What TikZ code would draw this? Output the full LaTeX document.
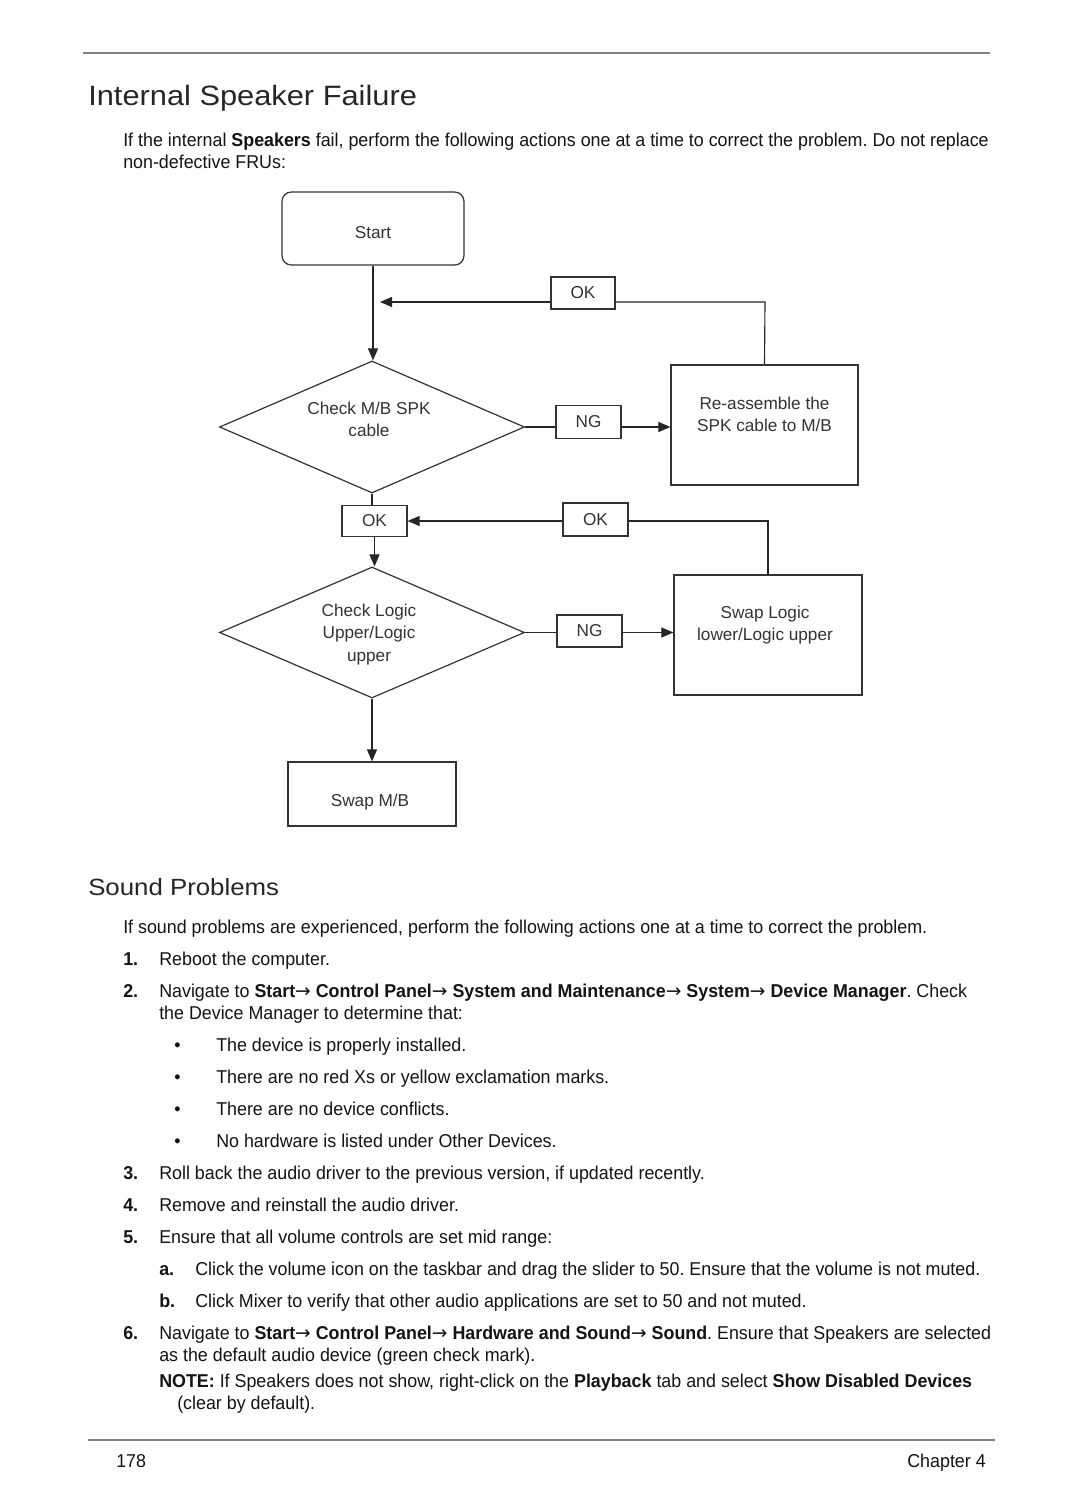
\documentclass[tikz,border=0pt]{standalone}
\usepackage{fontspec}
\setmainfont{Liberation Sans}
\newfontfamily\bodyfont[FakeStretch=0.96]{Liberation Sans}
\newfontfamily\headfont[FakeStretch=1.1]{Liberation Sans}
\newfontfamily\arrowfont{DejaVu Sans}
\newcommand{\rarr}{{\arrowfont\mdseries\fontsize{14pt}{15pt}\selectfont\raisebox{0.3pt}{→}}}
\usetikzlibrary{shapes.geometric,arrows.meta}
\tikzset{
  body/.style={font=\bodyfont\frenchspacing\fontsize{13.95pt}{16.5pt}\selectfont, text=black!92, inner sep=0pt, anchor=base west},
  head/.style={font=\headfont\fontsize{21pt}{25pt}\selectfont, text=black!85, inner sep=0pt, anchor=base west},
  subhead/.style={font=\headfont\fontsize{17.6pt}{21pt}\selectfont, text=black!85, inner sep=0pt, anchor=base west},
  flowtext/.style={font=\fontsize{12.9pt}{16.6pt}\selectfont, text=black!80, align=center, inner sep=0pt},
  box/.style={draw=black!80, line width=0.9pt, rectangle, inner sep=0pt, flowtext},
  dia/.style={draw=black!80, line width=0.9pt, diamond, inner sep=0pt, flowtext},
  conn/.style={draw=black!85, line width=0.85pt},
  arr/.style={conn, -{Triangle[length=9pt,width=7.5pt]}},
  rule/.style={draw=black!50, line width=1.2pt}
}
\begin{document}
\begin{tikzpicture}[x=0.75pt,y=-0.75pt]
\fill[white] (0,0) rectangle (1080,1512);
\useasboundingbox (0,0) rectangle (1080,1512);

% rules
\coordinate (r1a) at (83,53); \coordinate (r1b) at (990,53);
\draw[rule] (r1a) -- (r1b);
\coordinate (r2a) at (88,1440); \coordinate (r2b) at (995,1440);
\draw[rule] (r2a) -- (r2b);

% heading and intro
\node[head] (title) at (88,106) {Internal Speaker Failure};
\node[body] (p1a) at (123,146.5) {If the internal \textbf{Speakers} fail, perform the following actions one at a time to correct the problem. Do not replace};
\node[body] (p1b) at (123,168.5) {non-defective FRUs:};

% flowchart
\node[box, rounded corners=7pt, minimum width=182*0.75pt, minimum height=73*0.75pt,
      label={[flowtext, yshift=-4*0.75pt]center:{Start}}] (start) at (373,228.5) {};
\node[dia, minimum width=305*0.75pt, minimum height=132*0.75pt,
      label={[flowtext, xshift=-3*0.75pt, yshift=8*0.75pt]center:{Check M/B SPK\\cable}}] (d1) at (372,427) {};
\node[box, minimum width=64*0.75pt, minimum height=32*0.75pt] (ok1) at (583,293) {OK};
\node[box, minimum width=65*0.75pt, minimum height=33*0.75pt] (ng1) at (588.5,422) {NG};
\node[box, minimum width=187*0.75pt, minimum height=120*0.75pt,
      label={[flowtext, yshift=11*0.75pt]center:{Re-assemble the\\SPK cable to M/B}}] (rebox) at (764.5,425) {};
\node[box, minimum width=65*0.75pt, minimum height=31*0.75pt] (ok2) at (374.5,521) {OK};
\node[box, minimum width=65*0.75pt, minimum height=33*0.75pt] (ok3) at (595.5,519.5) {OK};
\node[dia, minimum width=305*0.75pt, minimum height=131*0.75pt,
      label={[flowtext, xshift=-3*0.75pt, yshift=-2*0.75pt]center:{Check Logic\\Upper/Logic\\upper}}] (d2) at (372,632.5) {};
\node[box, minimum width=65*0.75pt, minimum height=32*0.75pt] (ng2) at (589.5,631) {NG};
\node[box, minimum width=188*0.75pt, minimum height=120*0.75pt,
      label={[flowtext, xshift=-3*0.75pt, yshift=10*0.75pt]center:{Swap Logic\\lower/Logic upper}}] (swapl) at (768,635) {};
\node[box, minimum width=168*0.75pt, minimum height=64*0.75pt,
      label={[flowtext, xshift=-2*0.75pt, yshift=-8.5*0.75pt]center:{Swap M/B}}] (swapmb) at (372,794) {};

% connectors
\coordinate (m1) at (765,302);
\coordinate (t1) at (380,302);
\draw[arr] (start.south) -- (start.south |- d1.north);
\draw[conn] (rebox.north) -- (m1) -- (ok1.east |- m1);
\draw[arr] (ok1.west |- m1) -- (t1);
\draw[conn] (d1.east) -- (ng1.west |- d1.east);
\draw[arr] (ng1.east |- d1.east) -- (rebox.west |- d1.east);
\draw[conn] (d1.south) -- (d1.south |- ok2.north);
\coordinate (m2) at (768,521);
\draw[conn] (swapl.north) -- (m2) -- (ok3.east |- m2);
\draw[arr] (ok3.west |- m2) -- (ok2.east |- m2);
\draw[arr] (ok2.south) -- (ok2.south |- d2.north);
\draw[conn] (d2.east) -- (ng2.west |- d2.east);
\draw[arr] (ng2.east |- d2.east) -- (swapl.west |- d2.east);
\draw[arr] (d2.south) -- (swapmb.north);

% sound problems
\node[subhead] (title2) at (88,895) {Sound Problems};
\node[body] (s0) at (123,933.5) {If sound problems are experienced, perform the following actions one at a time to correct the problem.};
\node[body] (n1) at (123,965.5) {\textbf{1.}};
\node[body] (s1) at (159,965.5) {Reboot the computer.};
\node[body] (n2) at (123,997.5) {\textbf{2.}};
\node[body] (s2a) at (159,997.5) {Navigate to \textbf{Start}\rarr\ \textbf{Control Panel}\rarr\ \textbf{System and Maintenance}\rarr\ \textbf{System}\rarr\ \textbf{Device Manager}. Check};
\node[body] (s2b) at (159,1019.5) {the Device Manager to determine that:};
\node[body] (b1) at (174,1051.5) {•};
\node[body] (sb1) at (216,1051.5) {The device is properly installed.};
\node[body] (b2) at (174,1083.5) {•};
\node[body] (sb2) at (216,1083.5) {There are no red Xs or yellow exclamation marks.};
\node[body] (b3) at (174,1115.5) {•};
\node[body] (sb3) at (216,1115.5) {There are no device conflicts.};
\node[body] (b4) at (174,1147.5) {•};
\node[body] (sb4) at (216,1147.5) {No hardware is listed under Other Devices.};
\node[body] (n3) at (123,1179.5) {\textbf{3.}};
\node[body] (s3) at (159,1179.5) {Roll back the audio driver to the previous version, if updated recently.};
\node[body] (n4) at (123,1211.5) {\textbf{4.}};
\node[body] (s4) at (159,1211.5) {Remove and reinstall the audio driver.};
\node[body] (n5) at (123,1243.5) {\textbf{5.}};
\node[body] (s5) at (159,1243.5) {Ensure that all volume controls are set mid range:};
\node[body] (na) at (159,1275.5) {\textbf{a.}};
\node[body] (sa) at (195,1275.5) {Click the volume icon on the taskbar and drag the slider to 50. Ensure that the volume is not muted.};
\node[body] (nb) at (159,1307.5) {\textbf{b.}};
\node[body] (sb) at (195,1307.5) {Click Mixer to verify that other audio applications are set to 50 and not muted.};
\node[body] (n6) at (123,1339.5) {\textbf{6.}};
\node[body] (s6a) at (159,1339.5) {Navigate to \textbf{Start}\rarr\ \textbf{Control Panel}\rarr\ \textbf{Hardware and Sound}\rarr\ \textbf{Sound}. Ensure that Speakers are selected};
\node[body] (s6b) at (159,1361.5) {as the default audio device (green check mark).};
\node[body] (note1) at (159,1387.5) {\textbf{NOTE:} If Speakers does not show, right-click on the \textbf{Playback} tab and select \textbf{Show Disabled Devices}};
\node[body] (note2) at (177,1409.5) {(clear by default).};

% footer
\node[body] (pg) at (116,1467.5) {178};
\node[body, anchor=base east] (ch) at (986,1467.5) {Chapter 4};
\end{tikzpicture}
\end{document}
